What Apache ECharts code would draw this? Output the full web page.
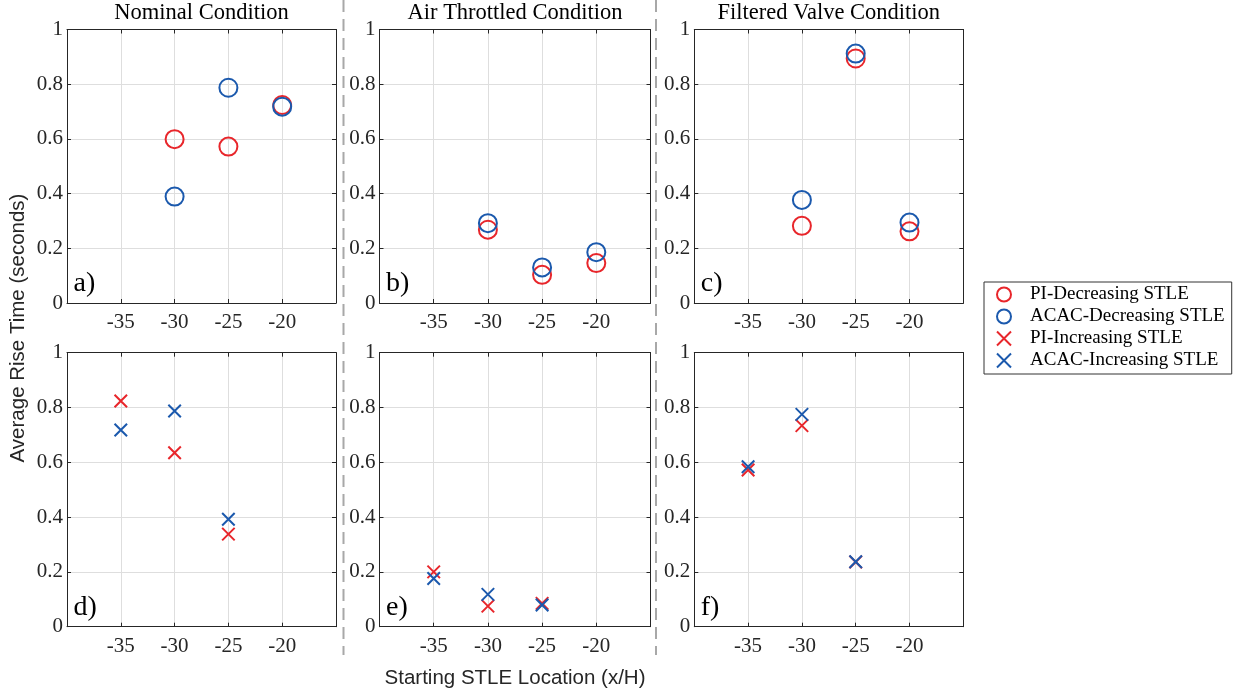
<!DOCTYPE html>
<html>
<head>
<meta charset="utf-8">
<script src="https://cdn.jsdelivr.net/npm/echarts@6/dist/echarts.min.js"></script>
<style>
  html, body { margin: 0; padding: 0; background: #fff; }
  #chart { width: 1237px; height: 694px; }
</style>
</head>
<body>
<div id="chart"></div>
<script>
// Starting STLE locations (x/H)
const xTicks = [-35, -30, -25, -20];
const decX = [-30, -25, -20];   // decreasing STLE sweeps
const incX = [-35, -30, -25];   // increasing STLE sweeps

// Average rise time (s), decreasing STLE
const piDecNominal     = [0.599, 0.572, 0.724];
const acacDecNominal   = [0.389, 0.787, 0.718];
const piDecThrottled   = [0.268, 0.103, 0.146];
const acacDecThrottled = [0.292, 0.130, 0.186];
const piDecFiltered    = [0.282, 0.894, 0.262];
const acacDecFiltered  = [0.377, 0.912, 0.294];

// Average rise time (s), increasing STLE
const piIncNominal     = [0.824, 0.635, 0.338];
const acacIncNominal   = [0.718, 0.787, 0.392];
const piIncThrottled   = [0.200, 0.075, 0.085];
const acacIncThrottled = [0.176, 0.118, 0.079];
const piIncFiltered    = [0.572, 0.734, 0.236];
const acacIncFiltered  = [0.584, 0.775, 0.237];

const conditions = ['Nominal Condition', 'Air Throttled Condition', 'Filtered Valve Condition'];
const panelTags = ['a)', 'b)', 'c)', 'd)', 'e)', 'f)'];
const seriesNames = ['PI-Decreasing STLE', 'ACAC-Decreasing STLE', 'PI-Increasing STLE', 'ACAC-Increasing STLE'];

const RED = '#E8262B';
const BLUE = '#1B59AD';
const SERIF = '"Liberation Serif", "Times New Roman", serif';
const SANS = '"Liberation Sans", Arial, sans-serif';
const CROSS = 'path://M0,0L10,10M10,0L0,10';

// panel rectangles (left, top, width, height)
const cols = [{ left: 67, width: 269 }, { left: 379.5, width: 271 }, { left: 694.3, width: 269 }];
const rows = [{ top: 29.5, height: 273.5 }, { top: 352.7, height: 274 }];

const grids = [], xAxes = [], yAxes = [], series = [], graphics = [];

const panelData = [
  [decX, piDecNominal, acacDecNominal],
  [decX, piDecThrottled, acacDecThrottled],
  [decX, piDecFiltered, acacDecFiltered],
  [incX, piIncNominal, acacIncNominal],
  [incX, piIncThrottled, acacIncThrottled],
  [incX, piIncFiltered, acacIncFiltered]
];

function zip(xs, ys) { return xs.map((x, i) => [x, ys[i]]); }

const boxLine = { show: true, onZero: false, lineStyle: { color: '#262626', width: 1 } };
const tickStyle = { show: true, inside: true, length: 4, lineStyle: { color: '#262626', width: 1 } };
const gridLine = { show: true, lineStyle: { color: '#dedede', width: 1 } };

for (let r = 0; r < 2; r++) {
  for (let c = 0; c < 3; c++) {
    const idx = r * 3 + c;
    const g = { left: cols[c].left, width: cols[c].width, top: rows[r].top, height: rows[r].height };
    grids.push({ ...g, show: false, containLabel: false });

    // bottom x axis with labels
    xAxes.push({
      type: 'value', gridIndex: idx, min: -40, max: -15, interval: 5, position: 'bottom',
      axisLine: boxLine, axisTick: tickStyle,
      axisLabel: { show: true, margin: 9, color: '#262626', fontFamily: SERIF, fontSize: 21,
        showMinLabel: false, showMaxLabel: false },
      splitLine: gridLine
    });
    // top x axis, ticks only
    xAxes.push({
      type: 'value', gridIndex: idx, min: -40, max: -15, interval: 5, position: 'top',
      axisLine: boxLine, axisTick: tickStyle, axisLabel: { show: false }, splitLine: { show: false }
    });
    // left y axis with labels
    yAxes.push({
      type: 'value', gridIndex: idx, min: 0, max: 1, interval: 0.2, position: 'left',
      axisLine: boxLine, axisTick: tickStyle,
      axisLabel: { show: true, margin: 4, color: '#262626', fontFamily: SERIF, fontSize: 21 },
      splitLine: gridLine
    });
    // right y axis, ticks only
    yAxes.push({
      type: 'value', gridIndex: idx, min: 0, max: 1, interval: 0.2, position: 'right',
      axisLine: boxLine, axisTick: tickStyle, axisLabel: { show: false }, splitLine: { show: false }
    });

    const [xs, piVals, acacVals] = panelData[idx];
    const isDec = r === 0;
    const sym = isDec ? 'circle' : CROSS;
    const size = isDec ? 18 : 12.5;
    const mk = (name, color, vals) => ({
      name, type: 'scatter', xAxisIndex: idx * 2, yAxisIndex: idx * 2,
      symbol: sym, symbolSize: size, data: zip(xs, vals),
      itemStyle: { color: 'rgba(255,255,255,0)', borderColor: color, borderWidth: 2, opacity: 1 },
      emphasis: { disabled: true }, silent: true, z: 3
    });
    series.push(mk(seriesNames[isDec ? 0 : 2], RED, piVals));
    series.push(mk(seriesNames[isDec ? 1 : 3], BLUE, acacVals));

    // panel tag
    graphics.push({
      type: 'text', z: 10, silent: true,
      style: { text: panelTags[idx], x: g.left + 6.5, y: g.top + g.height - 19,
        font: '28px ' + SERIF, fill: '#000', textAlign: 'left', textVerticalAlign: 'middle' }
    });
    // column title
    if (r === 0) {
      graphics.push({
        type: 'text', z: 10, silent: true,
        style: { text: conditions[c], x: g.left + g.width / 2, y: 13,
          font: '22.5px ' + SERIF, fill: '#000', textAlign: 'center', textVerticalAlign: 'middle' }
      });
    }
  }
}

// dashed column separators
[343.5, 656].forEach(x => {
  graphics.push({
    type: 'line', z: 1, silent: true,
    shape: { x1: x, y1: 0, x2: x, y2: 655 },
    style: { stroke: '#a8a8a8', lineWidth: 2, lineDash: [12, 7] }
  });
});

// shared axis names
graphics.push({
  type: 'text', z: 10, silent: true, x: 18, y: 328, rotation: Math.PI / 2,
  style: { text: 'Average Rise Time (seconds)', x: 0, y: 0, font: '20.5px ' + SANS, fill: '#262626',
    textAlign: 'center', textVerticalAlign: 'middle' }
});
graphics.push({
  type: 'text', z: 10, silent: true,
  style: { text: 'Starting STLE Location (x/H)', x: 515, y: 678, font: '20.5px ' + SANS, fill: '#262626',
    textAlign: 'center', textVerticalAlign: 'middle' }
});

const chart = echarts.init(document.getElementById('chart'), null, { renderer: 'canvas' });
chart.setOption({
  animation: false,
  backgroundColor: '#fff',
  grid: grids,
  xAxis: xAxes,
  yAxis: yAxes,
  series: series,
  legend: {
    data: seriesNames,
    orient: 'vertical',
    left: 984, top: 282,
    padding: [3, 7, 4, 12],
    itemGap: 3,
    itemWidth: 42, itemHeight: 14,
    backgroundColor: '#fff',
    borderColor: '#333', borderWidth: 1, borderRadius: 0,
    selectedMode: false,
    textStyle: { fontFamily: SERIF, fontSize: 19, color: '#000', padding: [0, 0, 0, 0] }
  },
  graphic: graphics
});
</script>
</body>
</html>
